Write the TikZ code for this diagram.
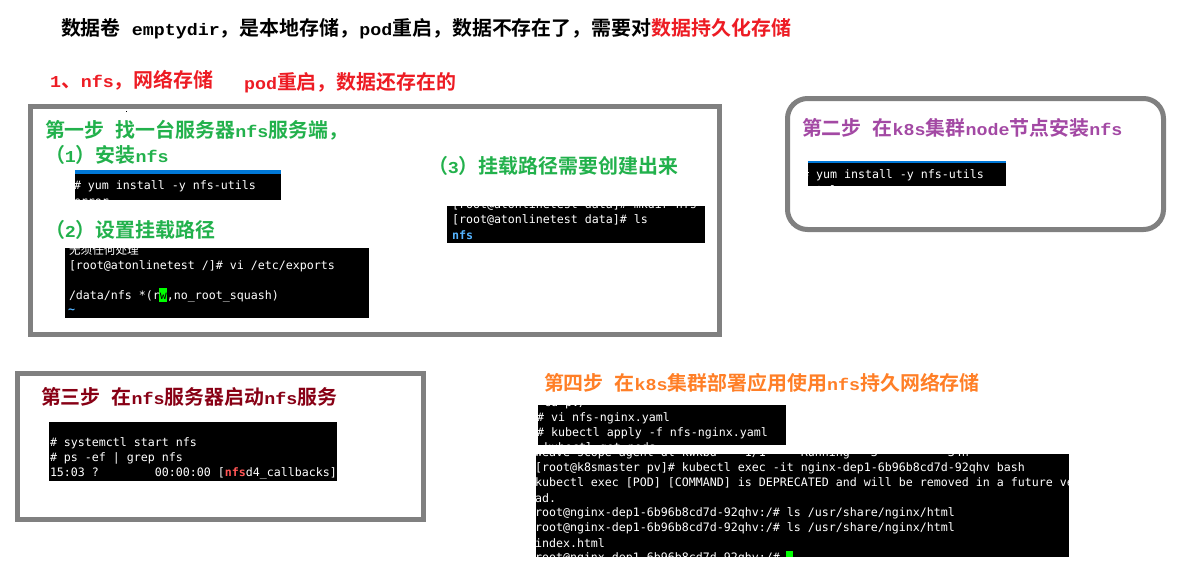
\documentclass[tikz,border=0pt]{standalone}
\usepackage{fontspec}
\setmainfont{Noto Sans CJK SC}[BoldFont={Noto Sans CJK SC Bold}]
\newfontfamily\latfont{Liberation Mono}[BoldFont={Liberation Mono Bold},FakeStretch=1.1]
\newfontfamily\termfont{DejaVu Sans Mono}
\newfontfamily\cjkterm{Noto Sans CJK SC}
\newcommand{\en}[1]{{\latfont\fontsize{12.5pt}{14pt}\selectfont\bfseries #1}}
\definecolor{frame}{HTML}{808080}
\definecolor{mpred}{HTML}{ED1C24}
\definecolor{mpgreen}{HTML}{22B14C}
\definecolor{mppurple}{HTML}{A349A4}
\definecolor{mpdark}{HTML}{880015}
\definecolor{mporange}{HTML}{FF7F27}
\definecolor{barblue}{HTML}{0078D7}
\definecolor{nfsblue}{HTML}{55B4FF}
\definecolor{nfsred}{HTML}{FF5555}
\definecolor{cursor}{HTML}{00FF00}
\tikzset{
  lbl/.style={anchor=west,inner sep=0pt,outer sep=0pt,font=\fontsize{14.95pt}{17pt}\selectfont\bfseries},
  term/.style={anchor=west,inner sep=0pt,outer sep=0pt,text=white,font=\termfont\fontsize{8.72pt}{11pt}\selectfont},
  box/.style={draw=frame,line width=3.75pt,fill=white},
}
\begin{document}
\begin{tikzpicture}[x=0.75pt,y=-0.75pt]
\useasboundingbox (0,0) rectangle (1182,565);
\fill[white] (0,0) rectangle (1182,565);
% frames
\draw[box] (30.5,106.5) rectangle (719.5,334.5);
\draw[box,rounded corners=15pt] (787.5,98.5) rectangle (1163.5,229.5);
\draw[box] (17.5,373.5) rectangle (423.5,519);
\fill[black] (125.5,110.5) rectangle (126.7,112);
% heading texts
\node[lbl] (title) at (61,29) {数据卷\en{ emptydir}，是本地存储，\en{pod}重启，数据不存在了，需要对\textcolor{mpred}{数据持久化存储}};
\node[lbl,text=mpred] (nfsline) at (50,80) {\en{1}、\en{nfs}，网络存储};
\node[lbl,text=mpred] (podline) at (244,83) {\en{pod}重启，数据还存在的};
\node[lbl,text=mpgreen] (stepa) at (45,130) {第一步\en{ }找一台服务器\en{nfs}服务端，};
\node[lbl,text=mpgreen] (suba) at (45,155) {（\en{1}）安装\en{nfs}};
\node[lbl,text=mpgreen] (subb) at (45,230) {（\en{2}）设置挂载路径};
\node[lbl,text=mpgreen] (subc) at (428,166) {（\en{3}）挂载路径需要创建出来};
\node[lbl,text=mppurple] (stepb) at (802,128) {第二步\en{ }在\en{k8s}集群\en{node}节点安装\en{nfs}};
\node[lbl,text=mpdark] (stepc) at (41,397) {第三步\en{ }在\en{nfs}服务器启动\en{nfs}服务};
\node[lbl,text=mporange] (stepd) at (544,383) {第四步\en{ }在\en{k8s}集群部署应用使用\en{nfs}持久网络存储};
% terminal 1
\begin{scope}
\clip (75,170) rectangle (281,200);
\fill[black] (75,170) rectangle (281,200);
\fill[barblue] (75,170) rectangle (281,174);
\node[term] (ta) at (74,186.5) {\# yum install -y nfs-utils};
\node[term] (tb) at (74,202.5) {error};
\end{scope}
% terminal 2
\begin{scope}
\clip (65,248) rectangle (369,318);
\fill[black] (65,248) rectangle (369,318);
\fill[cursor] (159,288) rectangle (166.5,302);
\node[term] (tc) at (69,250) {\cjkterm 无须任何处理};
\node[term] (td) at (69,266) {[root@atonlinetest /]\# vi /etc/exports};
\node[term] (te) at (69,296) {/data/nfs *(r\textcolor{black}{w},no\_root\_squash)};
\node[term,text=nfsblue,font=\termfont\fontsize{8.72pt}{11pt}\selectfont\bfseries] (tf) at (68,311) {\textasciitilde};
\end{scope}
% terminal 3
\begin{scope}
\clip (447,206) rectangle (705,243);
\fill[black] (447,206) rectangle (705,243);
\node[term] (tg) at (452,205) {[root@atonlinetest data]\# mkdir nfs};
\node[term] (th) at (452,220) {[root@atonlinetest data]\# ls};
\node[term,text=nfsblue,font=\termfont\fontsize{8.72pt}{11pt}\selectfont\bfseries] (ti) at (452,235) {nfs};
\end{scope}
% terminal 4
\begin{scope}
\clip (808,161) rectangle (1006,186);
\fill[black] (808,161) rectangle (1006,186);
\fill[barblue] (808,161) rectangle (1006,163);
\node[term] (tj) at (802,175.5) {\# yum install -y nfs-utils};
\node[term] (tk) at (802,190) {total};
\end{scope}
% terminal 5
\begin{scope}
\clip (49,422) rectangle (337,481);
\fill[black] (49,422) rectangle (337,481);
\node[term] (tl) at (50,443) {\# systemctl start nfs};
\node[term] (tm) at (50,458) {\# ps -ef | grep nfs};
\node[term] (tn) at (50,473) {15:03 ?~~~~~~~~00:00:00 [\textcolor{nfsred}{\bfseries nfs}d4\_callbacks]};
\end{scope}
% terminal 6
\begin{scope}
\clip (538,405) rectangle (786,445);
\fill[black] (538,405) rectangle (786,445);
\node[term] (to) at (537,403.5) {~cd pv/};
\node[term] (tp) at (537,418.5) {\# vi nfs-nginx.yaml};
\node[term] (tq) at (537,433.5) {\# kubectl apply -f nfs-nginx.yaml};
\node[term] (tr) at (537,448.5) {~kubectl get pods};
\end{scope}
% terminal 7
\begin{scope}
\clip (536,454) rectangle (1069,557);
\fill[black] (536,454) rectangle (1069,557);
\fill[cursor] (786,551) rectangle (793,557);
\node[term] (ts) at (535,453.5) {weave-scope-agent-dl kwkbd~~~~1/1~~~~~Running~~~3~~~~~~~~~~34h};
\node[term] (tt) at (535,468) {[root@k8smaster pv]\# kubectl exec -it nginx-dep1-6b96b8cd7d-92qhv bash};
\node[term] (tu) at (535,483) {kubectl exec [POD] [COMMAND] is DEPRECATED and will be removed in a future ve};
\node[term] (tv) at (535,498) {ad.};
\node[term] (tw) at (535,513) {root@nginx-dep1-6b96b8cd7d-92qhv:/\# ls /usr/share/nginx/html};
\node[term] (tx) at (535,528) {root@nginx-dep1-6b96b8cd7d-92qhv:/\# ls /usr/share/nginx/html};
\node[term] (ty) at (535,543) {index.html};
\node[term] (tz) at (535,558) {root@nginx-dep1-6b96b8cd7d-92qhv:/\#};
\end{scope}
\end{tikzpicture}
\end{document}
